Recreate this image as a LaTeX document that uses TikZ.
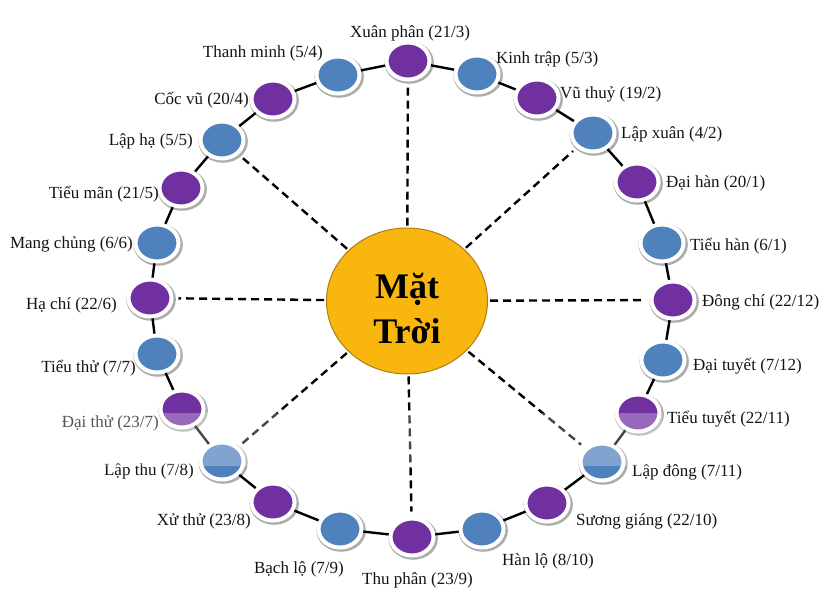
\documentclass[tikz,border=0pt]{standalone}
\usepackage{fontspec}
\setmainfont{Liberation Serif}
\usetikzlibrary{shapes.geometric,shadows}
\definecolor{pur}{RGB}{112,48,160}
\definecolor{blu}{RGB}{79,129,189}
\definecolor{sun}{RGB}{249,182,14}
\definecolor{sunedge}{RGB}{175,125,20}
\definecolor{txt}{RGB}{20,20,20}
\begin{document}
\begin{tikzpicture}[x=1pt,y=-1pt,
  term/.style={ellipse, minimum width=43pt, minimum height=37pt, inner sep=0pt,
    draw=white, line width=4pt,
    drop shadow={shadow xshift=1pt, shadow yshift=-1.3pt, shadow scale=1.15, fill=black!50, opacity=0.65}},
  pterm/.style={term, fill=pur},
  bterm/.style={term, fill=blu},
  lab/.style={font=\fontsize{17}{20}\selectfont, text=txt, inner sep=0pt},
  ring/.style={line width=2.4pt, black},
  ray/.style={line width=2.4pt, black, dash pattern=on 8pt off 5pt, shorten <=2pt, shorten >=5pt},
  sunstyle/.style={ellipse, minimum width=161pt, minimum height=146pt, inner sep=0pt,
    fill=sun, draw=sunedge, line width=1pt},
  suntext/.style={font=\fontsize{36}{40}\selectfont\bfseries, text=black, inner sep=0pt}
]
\useasboundingbox (0,0) rectangle (836,603);
\fill[white] (0,0) rectangle (836,603);

% sun
\node[sunstyle] (sun) at (407,301) {};
\node[suntext, anchor=base] (mat) at (407,298) {Mặt};
\node[suntext, anchor=base] (troi) at (407,343) {Trời};

% terms
\node[pterm] (xp)  at (408,61)  {};
\node[bterm] (kt)  at (477,74)  {};
\node[pterm] (vt)  at (537,98)  {};
\node[bterm] (lx)  at (593,133) {};
\node[pterm] (dh)  at (637,182) {};
\node[bterm] (th)  at (662,243) {};
\node[pterm] (dc)  at (673,300) {};
\node[bterm] (dt)  at (663,360) {};
\node[pterm] (tt)  at (638,413) {};
\node[bterm] (ld)  at (602,462) {};
\node[pterm] (sg)  at (547,503) {};
\node[bterm] (hl)  at (482,529) {};
\node[pterm] (tp)  at (412,537) {};
\node[bterm] (bl)  at (340,529) {};
\node[pterm] (xt)  at (273,502) {};
\node[bterm] (lt)  at (222,461) {};
\node[pterm] (dth) at (182,409) {};
\node[bterm] (tth) at (157,354) {};
\node[pterm] (hc)  at (150,298) {};
\node[bterm] (mc)  at (157,243) {};
\node[pterm] (tm)  at (181,188) {};
\node[bterm] (lh)  at (222,140) {};
\node[pterm] (cv)  at (273,99)  {};
\node[bterm] (tmi) at (338,75)  {};

% ring connectors
\foreach \a/\b in {xp/kt,kt/vt,vt/lx,lx/dh,dh/th,th/dc,dc/dt,dt/tt,tt/ld,ld/sg,sg/hl,hl/tp,
  tp/bl,bl/xt,xt/lt,lt/dth,dth/tth,tth/hc,hc/mc,mc/tm,tm/lh,lh/cv,cv/tmi,tmi/xp}
  \draw[ring] (\a) -- (\b);

% rays
\foreach \b in {xp,lx,dc,ld,tp,lt,hc,lh}
  \draw[ray] (sun) -- (\b);

% labels
\node[lab, anchor=base] (l-xp) at (410,37) {Xuân phân (21/3)};
\node[lab, anchor=base west] (l-kt) at (496,63) {Kinh trập (5/3)};
\node[lab, anchor=base west] (l-vt) at (560,98) {Vũ thuỷ (19/2)};
\node[lab, anchor=base west] (l-lx) at (621,138) {Lập xuân (4/2)};
\node[lab, anchor=base west] (l-dh) at (666,187) {Đại hàn (20/1)};
\node[lab, anchor=base west] (l-th) at (690,250) {Tiểu hàn (6/1)};
\node[lab, anchor=base west] (l-dc) at (702,306) {Đông chí (22/12)};
\node[lab, anchor=base west] (l-dt) at (693,370) {Đại tuyết (7/12)};
\node[lab, anchor=base west] (l-tt) at (667,423) {Tiểu tuyết (22/11)};
\node[lab, anchor=base west] (l-ld) at (632,476) {Lập đông (7/11)};
\node[lab, anchor=base west] (l-sg) at (576,525) {Sương giáng (22/10)};
\node[lab, anchor=base west] (l-hl) at (502,565) {Hàn lộ (8/10)};
\node[lab, anchor=base west] (l-tp) at (362,584) {Thu phân (23/9)};
\node[lab, anchor=base east] (l-bl) at (344,573) {Bạch lộ (7/9)};
\node[lab, anchor=base east] (l-xt) at (251,525) {Xử thử (23/8)};
\node[lab, anchor=base east] (l-lt) at (194,475) {Lập thu (7/8)};
\node[lab, anchor=base east] (l-dth) at (159,427) {Đại thử (23/7)};
\node[lab, anchor=base east] (l-tth) at (136,372) {Tiểu thử (7/7)};
\node[lab, anchor=base east] (l-hc) at (117,309) {Hạ chí (22/6)};
\node[lab, anchor=base east] (l-mc) at (133,248) {Mang chủng (6/6)};
\node[lab, anchor=base east] (l-tm) at (159,198) {Tiểu mãn (21/5)};
\node[lab, anchor=base east] (l-lh) at (193,145) {Lập hạ (5/5)};
\node[lab, anchor=base east] (l-cv) at (249,104) {Cốc vũ (20/4)};
\node[lab, anchor=base east] (l-tmi) at (323,57) {Thanh minh (5/4)};

% faint light band (as in the reference)
\fill[white, opacity=0.28] (40,413) rectangle (662,466);
\end{tikzpicture}
\end{document}
